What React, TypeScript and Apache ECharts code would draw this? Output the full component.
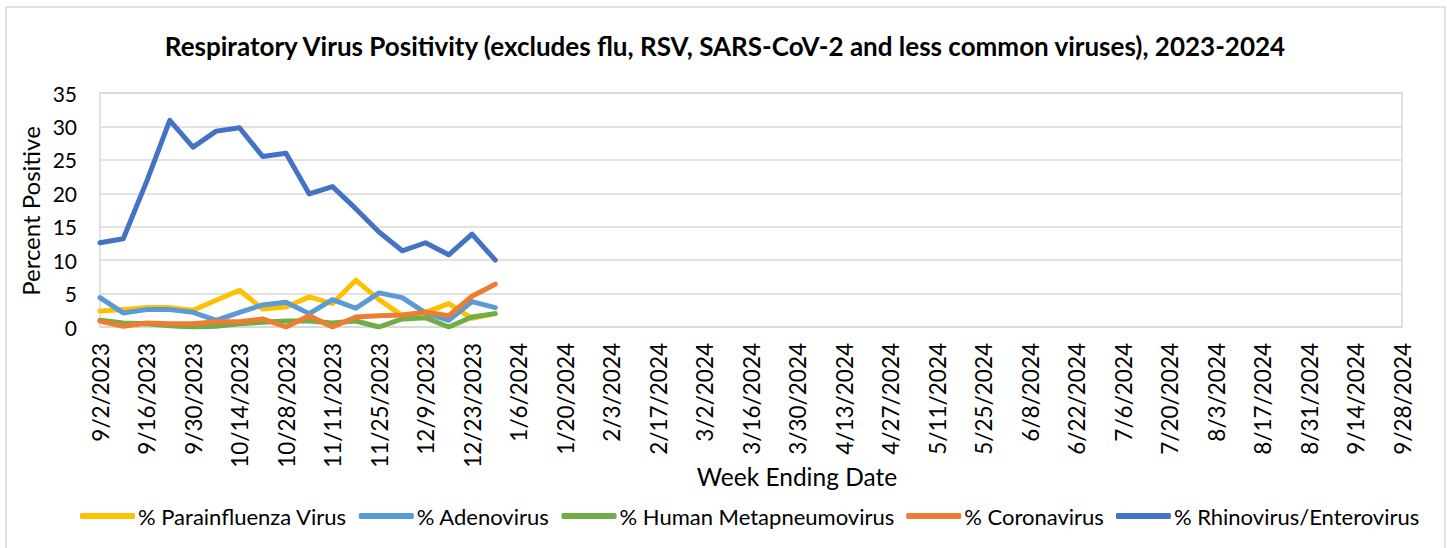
import React, { useEffect, useRef } from "react";
import * as echarts from "echarts";

const TITLE = "Respiratory Virus Positivity (excludes flu, RSV, SARS-CoV-2 and less common viruses), 2023-2024";
const Y_TITLE = "Percent Positive";
const X_TITLE = "Week Ending Date";

const weeks = [
  "9/2/2023", "9/9/2023", "9/16/2023", "9/23/2023", "9/30/2023", "10/7/2023", "10/14/2023", "10/21/2023",
  "10/28/2023", "11/4/2023", "11/11/2023", "11/18/2023", "11/25/2023", "12/2/2023", "12/9/2023", "12/16/2023",
  "12/23/2023", "12/30/2023", "1/6/2024", "1/13/2024", "1/20/2024", "1/27/2024", "2/3/2024", "2/10/2024",
  "2/17/2024", "2/24/2024", "3/2/2024", "3/9/2024", "3/16/2024", "3/23/2024", "3/30/2024", "4/6/2024",
  "4/13/2024", "4/20/2024", "4/27/2024", "5/4/2024", "5/11/2024", "5/18/2024", "5/25/2024", "6/1/2024",
  "6/8/2024", "6/15/2024", "6/22/2024", "6/29/2024", "7/6/2024", "7/13/2024", "7/20/2024", "7/27/2024",
  "8/3/2024", "8/10/2024", "8/17/2024", "8/24/2024", "8/31/2024", "9/7/2024", "9/14/2024", "9/21/2024",
  "9/28/2024",
];

const parainfluenza = [2.4, 2.6, 2.9, 2.9, 2.5, 4.0, 5.5, 2.7, 3.0, 4.5, 3.5, 7.0, 4.1, 1.7, 2.2, 3.5, 1.3, 2.0];
const adenovirus = [4.4, 2.1, 2.6, 2.6, 2.2, 1.0, 2.2, 3.3, 3.7, 2.0, 4.1, 2.8, 5.1, 4.4, 2.1, 1.0, 3.8, 2.9];
const hmpv = [1.0, 0.6, 0.5, 0.2, 0.0, 0.1, 0.5, 0.7, 0.9, 0.9, 0.6, 0.9, 0.0, 1.2, 1.4, 0.0, 1.5, 2.0];
const coronavirus = [0.9, 0.1, 0.6, 0.5, 0.5, 0.8, 0.8, 1.2, 0.0, 1.7, 0.0, 1.5, 1.7, 1.8, 2.2, 1.7, 4.6, 6.4];
const rhinovirus = [12.6, 13.2, 21.7, 30.9, 26.9, 29.3, 29.8, 25.5, 26.0, 19.9, 21.0, 17.7, 14.2, 11.4, 12.6, 10.8, 13.9, 10.0];

const seriesNames = [
  "% Parainfluenza Virus",
  "% Adenovirus",
  "% Human Metapneumovirus",
  "% Coronavirus",
  "% Rhinovirus/Enterovirus",
];
const seriesData = [parainfluenza, adenovirus, hmpv, coronavirus, rhinovirus];
const seriesColors = ["#FFC000", "#5B9BD5", "#70AD47", "#ED7D31", "#4472C4"];

const FONT = "Lato, 'Open Sans', sans-serif";

export default function App() {
  const ref = useRef<HTMLDivElement>(null);
  useEffect(() => {
    if (!ref.current) return;
    const chart = echarts.init(ref.current, undefined, { renderer: "svg" });
    chart.setOption({
      animation: false,
      backgroundColor: "#ffffff",
      textStyle: { fontFamily: FONT },
      grid: {
        left: 100,
        right: 45,
        top: 93,
        bottom: 221,
        show: true,
        borderColor: "#d9d9d9",
        borderWidth: 1.5,
      },
      legend: {
        left: 75,
        top: 500,
        itemWidth: 55,
        itemHeight: 6,
        itemGap: 12,
        icon: "roundRect",
        textStyle: { fontFamily: FONT, fontSize: 22, color: "#000", padding: [0, 0, 0, -2] },
        data: seriesNames,
      },
      xAxis: {
        type: "category",
        data: weeks,
        boundaryGap: false,
        axisLine: { lineStyle: { color: "#d9d9d9", width: 1.5 } },
        axisTick: { show: false },
        axisLabel: {
          interval: 1,
          rotate: 90,
          margin: 16,
          fontFamily: FONT,
          fontSize: 22.5,
          color: "#000",
        },
        splitLine: { show: false },
      },
      yAxis: {
        type: "value",
        min: 0,
        max: 35,
        interval: 5,
        axisLine: { show: false },
        axisTick: { show: false },
        axisLabel: { margin: 23, fontFamily: FONT, fontSize: 21, color: "#000" },
        splitLine: { lineStyle: { color: "#d9d9d9", width: 1.5 } },
      },
      series: seriesNames.map((name, i) => ({
        name,
        type: "line",
        data: seriesData[i],
        showSymbol: false,
        symbol: "none",
        color: seriesColors[i],
        lineStyle: { width: 5, color: seriesColors[i], cap: "round", join: "round" },
      })),
      graphic: [
        {
          type: "rect",
          shape: { x: 6, y: 7, width: 1439, height: 545 },
          style: { fill: "none", stroke: "#d9d9d9", lineWidth: 1.5 },
          silent: true,
        },
        {
          type: "text",
          x: 725,
          y: 46,
          style: {
            text: TITLE,
            font: `bold 26px ${FONT}`,
            fill: "#000",
            align: "center",
            verticalAlign: "middle",
          },
        },
        {
          type: "text",
          x: 30,
          y: 211,
          rotation: Math.PI / 2,
          style: {
            text: Y_TITLE,
            font: `24px ${FONT}`,
            fill: "#000",
            align: "center",
            verticalAlign: "middle",
          },
        },
        {
          type: "text",
          x: 797,
          y: 476,
          style: {
            text: X_TITLE,
            font: `24.5px ${FONT}`,
            fill: "#000",
            align: "center",
            verticalAlign: "middle",
          },
        },
      ],
    });
    return () => chart.dispose();
  }, []);
  return (
    <div
      ref={ref}
      style={{ position: "absolute", left: 0, top: 0, width: 1447, height: 548 }}
    />
  );
}
